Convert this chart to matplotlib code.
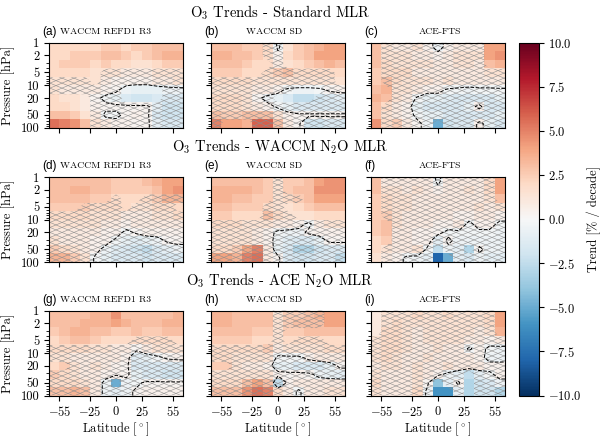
import matplotlib.pyplot as plt
import numpy as np
from matplotlib.collections import LineCollection

plt.rcParams['font.family'] = ['cmr10', 'DejaVu Serif']
plt.rcParams['mathtext.fontset'] = 'cm'
plt.rcParams['axes.formatter.use_mathtext'] = True
plt.rcParams['font.size'] = 9

# grid: 10 degree latitude bins, pressure bins (hPa)
lat_edges = [-65, -55, -45, -35, -25, -15, -5, 5, 15, 25, 35, 45, 55, 65]
p_edges = [1, 1.6, 2.5, 4, 6.3, 10, 16, 25, 40, 63, 100]

row_titles = ['O$_3$ Trends - Standard MLR',
              'O$_3$ Trends - WACCM N$_2$O MLR',
              'O$_3$ Trends - ACE N$_2$O MLR']
col_names = ['WACCM REFD1 R3', 'WACCM SD', 'ACE-FTS']
tags = ['(a)', '(b)', '(c)', '(d)', '(e)', '(f)', '(g)', '(h)', '(i)']
lat_ticks = [-55, -25, 0, 25, 55]
p_ticks = [1, 2, 5, 10, 20, 50, 100]
cbar_ticks = [-10, -7.5, -5, -2.5, 0, 2.5, 5, 7.5, 10]

# trends [% / decade], rows from 1 hPa down to 100 hPa, columns 60S -> 60N
trend_a = [[2, 2, 2, 2, 2, 2.5, 2.5, 2, 2.5, 2.5, 3, 3, 3],
           [2, 2, 2.5, 2.5, 2.5, 3, 3, 2.5, 2, 2.5, 3, 3.5, 3.5],
           [2, 2.5, 2.5, 2.5, 2, 2.5, 2, 2, 1.5, 1.5, 2, 2.5, 2.5],
           [2, 2, 2, 2, 1.5, 1.5, 1.5, 1, 1, 1, 1.5, 1.5, 1.5],
           [1.5, 1.5, 1.5, 1.5, 1.5, 1, 0.5, 0.5, 0.5, 0.5, 1, 1, 1.5],
           [1.5, 1, 1, 1, 1, 0.5, 0.3, -0.5, -0.8, -0.8, -0.8, -0.5, -0.5],
           [2, 1.5, 1.5, 1, 0.3, -0.3, -0.8, -1.5, -2, -2, -1.5, -1.5, -1.5],
           [2, 2, 1.5, 1, 0.5, 0.3, 0.3, 0.3, 0.3, 0.3, -1, -2, -2],
           [3, 3, 2.5, 1.5, 1, -0.3, -0.3, 0.3, 0.5, 0.3, -1.5, -2, -2],
           [5.5, 5, 4.5, 3, 1.5, 1, 0.5, 0.5, 0.3, 0.3, -1, -1.5, -1.5]]
trend_b = [[3, 3, 3, 2.5, 2.5, 2, -0.3, 1.5, 2.5, 3, 3.5, 4, 4],
           [3.5, 3.5, 3, 3, 2.5, 2, 0.5, 2, 2.5, 3, 4, 4, 4],
           [3, 3, 3, 2.5, 2, 2, 1, 1.5, 2, 2.5, 3, 3.5, 3],
           [2.5, 2.5, 2.5, 2, 2, 2, 2.5, 3, 2, 2, 2, 2, 2],
           [2, 2, 2, 2, 1.5, 1.5, 1.5, 1.5, 1.5, 1.5, 1.5, 1.5, 1.5],
           [1.5, 1.5, 1.5, 1.5, 1, 1, 0.5, -0.3, -0.5, -0.5, -0.3, 0.3, 0.5],
           [2, 2, 2, 1.5, 0.3, -0.5, -0.8, -1.5, -2.5, -2.5, -2, -1.5, -1],
           [2, 2, 2, 1.5, 1, 0.5, -0.3, -0.8, -1.5, -1.5, -1.5, -1.5, -1.5],
           [3, 2.5, 2.5, 3, 3, 3, 1.5, 0.5, 0.3, 0.3, 0.3, 0.3, 0.3],
           [5, 4, 4, 3.5, 6, 6, 3, 1, 0.3, -2, -2, -1.5, -1.5]]
trend_c = [[3, 1.5, 1, 1, 1.5, 0.5, -0.5, 0.5, 1, 1, 1, 4, 4],
           [3, 1.5, 1.5, 1.5, 1, 1, 0.5, 1, 1.5, 1.5, 1.5, 4, 4.5],
           [3, 2, 1.5, 1.5, 1.5, 1.5, 1, 1, 1.5, 1.5, 1, 3, 3.5],
           [2.5, 2, 2, 2, 1, 1, 1, 1, 1, 1, 1, 1.5, 1.5],
           [2.5, 3, 2, 1.5, 1.5, 1.5, 1, 1.5, 1, 1, 1, 1, 1],
           [3, 3.5, 1.5, 1.5, 1, 0.5, 0.5, -0.2, -0.3, -0.5, -0.3, -0.3, -0.2],
           [3.5, 3, 1.5, 1, -0.2, -0.8, -0.8, -1.2, -1.5, -1.5, -1.5, -1.5, -0.8],
           [3, 2, 1, 0.5, -0.8, -1.5, -1.5, -1.5, -1.5, -0.8, 0.5, -1.5, -1.5],
           [3, 1.5, 1, 0.5, -0.3, -0.8, -0.8, -1.5, -1.5, -1.5, -1.5, -1.5, -0.8],
           [4.5, 2, 2.5, 1, 0.3, -0.5, -5, -2, -1.5, -1.5, 0.5, -0.8, -1.5]]
trend_d = [[3, 3, 3, 3, 3, 3, 2.5, 2.5, 2.5, 3, 3.5, 4, 4],
           [3, 3, 3.5, 3.5, 3, 3, 2.5, 2.5, 2.5, 2.5, 3, 4, 4.5],
           [3, 3, 3, 3, 2.5, 2.5, 2, 2, 2, 2, 2.5, 3.5, 3.5],
           [2.5, 2.5, 2.5, 2.5, 2, 2, 2, 2, 1.5, 1.5, 2, 2, 2],
           [2, 2, 2, 2, 1.5, 1.5, 1.5, 1, 1, 1, 1.5, 1.5, 2],
           [1.5, 1.5, 1.5, 1.5, 1.5, 1, 1, 0.5, 1, 1, 1, 1, 1],
           [1, 1, 1, 1, 1, 0.5, 0.5, -0.3, 0.2, 0.5, 0.5, 0.5, 0.5],
           [1.5, 1, 1, 1, 0.5, 0.5, -0.3, -0.8, -1.2, -0.8, -0.5, 0.2, 0.3],
           [2.5, 2, 1.5, 1, 0.5, -0.5, -1.2, -1.5, -2, -2.5, -1.5, -1, -0.5],
           [3.5, 3.5, 2.5, 1.5, -0.3, -0.8, -1.5, -1.5, -1.5, -2, -1.5, -1.5, -1.5]]
trend_e = [[3, 3, 3, 3, 3, 2.5, 1.5, 2.5, 2.5, 3, 4, 4.5, 4.5],
           [3.5, 3.5, 3.5, 3.5, 3, 2.5, 1.5, 2.5, 3, 3, 4.5, 4.5, 4.5],
           [3.5, 3.5, 3, 3, 2.5, 2.5, 1.5, 2, 2.5, 3, 4, 4, 4],
           [3, 3, 2.5, 2.5, 2.5, 2, 1.5, 1.5, 2, 2.5, 3, 3, 3],
           [2.5, 2.5, 2, 2, 2, 3, 2, 1.5, 1.5, 1.5, 2, 2, 2],
           [2, 2, 2, 1.5, 1.5, 1.5, 1, 1, 0.5, -0.3, 1, 1.5, 1.5],
           [1.5, 1.5, 1.5, 1.5, 1, 0.5, -0.3, -0.5, -0.5, 0.3, 0.5, 0.5, 0.5],
           [1.5, 1.5, 1.5, 1.5, 1, 0.5, -0.5, -1.2, -1.5, -1.5, -0.8, 0.3, 0.3],
           [2, 2, 2.5, 4, 5, 1, -0.8, -1.5, -3, -3, -2, -1.5, -1.5],
           [4, 4, 3.5, 5, 5.5, 1, 0.3, -1.5, -2, -2, -1.5, -1.5, -2.5]]
trend_f = [[3, 1, 1, 1, 1, 1, -0.3, 1, 1, 1, 1, 2, 4],
           [3, 1.5, 1.5, 1, 1.5, 1, 0.5, 1, 1, 1.5, 1, 2, 4],
           [2.5, 2, 1.5, 1.5, 1, 1, 1, 1, 1, 1, 1, 1.5, 3],
           [2.5, 2, 1.5, 1.5, 1, 1, 1, 1, 1, 1, 1.5, 1, 1.5],
           [2.5, 2.5, 1.5, 1, 1, 1, 1, 1, 0.5, 0.5, 1, 1, 0.5],
           [2.5, 3, 1.5, 1, 1, 1, 0.5, 0.5, 1, -0.3, 0.5, 0.5, -0.3],
           [2.5, 3, 1, 1, 0.5, 0.5, 0.3, -0.3, -0.3, -0.3, -0.3, -0.3, -0.5],
           [2, 2.5, 1, 1, 0.5, 0.5, -1, 0.3, -0.5, -0.5, -0.5, -0.5, -0.5],
           [2, 1.5, 1, 1, 1.5, -0.3, -2.5, -0.5, -1, -3, 0.3, -0.5, -0.5],
           [1.5, 1, 0.5, -0.3, -0.5, -1, -8, -5, -1, -1.5, -0.5, -1, -1]]
trend_g = [[3, 3, 3, 3, 3.5, 3.5, 4.5, 3, 3, 3, 3, 3, 3.5],
           [3, 3, 3, 3.5, 3.5, 3.5, 4, 3.5, 3, 3, 3, 3.5, 3.5],
           [2.5, 3, 3.5, 3.5, 3, 3, 2.5, 2.5, 3, 2.5, 2.5, 3, 3],
           [2, 2.5, 3, 3, 2.5, 2, 2, 2, 2, 2, 2, 2, 2],
           [2, 2, 2, 2, 1.5, 1.5, 1, 1, 0.3, 1, 1.5, 1.5, 1.5],
           [1.5, 1.5, 1, 1, 1, 1, 1, 0.5, -1.2, -0.8, -0.3, 0.3, 0.5],
           [2, 2.5, 1.5, 1, 1.5, 1, 0.5, 0.3, -1.5, -1.5, -1.5, -1.5, -1.5],
           [2.5, 2, 1.5, 1, 1, 0.5, 0.5, 0.3, -0.8, -1.5, -1.5, -2, -2],
           [2, 2, 2, 1.5, 1, -0.5, -5, -0.5, -0.3, 0.3, 0.3, 0.3, 0.3],
           [3, 3, 3.5, 3, 1, -0.5, -1, -0.5, 0.3, 0.5, 0.5, 0.5, 0.5]]
trend_h = [[3.5, 3.5, 3, 3, 3, 3, 1.5, 2.5, 2.5, 3, 3.5, 4, 4],
           [3.5, 3.5, 3, 3, 3, 3, 1.5, 2.5, 3, 3, 3, 4, 4],
           [3, 3, 3, 3, 2.5, 2.5, 1.5, 2.5, 2.5, 3, 3, 3, 3],
           [2.5, 2.5, 2.5, 2.5, 2, 2, 1.5, 2, 2, 2, 2, 2, 2],
           [2, 2, 2, 2, 2, 2.5, 1, 1.5, 1.5, 1.5, 1.5, 2, 2],
           [2, 2, 1.5, 1.5, 1.5, 1.5, -0.3, -0.3, -0.3, 0.5, 1, 1, 1],
           [2.5, 2.5, 1.5, 1, 1, 0.5, -0.8, -0.8, -1.5, -1.5, -1.5, -0.8, 0.3],
           [1.5, 1.5, 1.5, 1.5, 1.5, 1.5, 0.5, 0.3, 0.5, 0.3, -0.5, -0.8, -1],
           [2, 2, 2, 3, 4, 3, -2.5, 0.5, 1, 1, 1, 1, 1],
           [3, 3, 3, 4.5, 5.5, 5, 2, 1, -0.3, 1, 1, 1.5, 1.5]]
trend_i = [[1, 1.5, 1.5, 1.5, 2, 1.5, 1.5, 2, 1.5, 1.5, 1.5, 2, 4],
           [1, 1.5, 2, 1.5, 1.5, 1.5, 1.5, 1.5, 1.5, 1.5, 1.5, 2, 4],
           [1, 2, 2, 1.5, 1, 1.5, 1.5, 1.5, 1.5, 1.5, 1, 1.5, 3.5],
           [1.5, 2, 2, 1.5, 1, 1.5, 1.5, 1.5, 1.5, 1, 1, 0.5, 1],
           [1.5, 2, 2, 1.5, 1, 1, 1.5, 1, 1, -0.2, 0.5, -0.3, -0.5],
           [1.5, 2, 1.5, 1, 1, 1.5, 1, 1, 1, 1, 0.5, -0.5, -0.5],
           [1, 1.5, 1.5, 1, 1.5, 1, 1, 1.5, 1, 1, 1, 0.5, 0.5],
           [1.5, 1, 1, 1, 1.5, 1, 0.5, -0.5, -1, -2.5, -1, -0.3, 0.5],
           [2, 1, 1, 1, 1.5, 0.3, -4, -1, 0.3, -3, -2, -1.5, -0.5],
           [1.5, 1, 1, 1, 2, -0.5, -6, -6, -1, -3, -2, -2, -3]]

# 'x' = trend not significant (hatched)
sig_a = ['.............', '.............', '.............', '.....xxxxxxxx',
         'xxxx.xxxxxxxx', 'xxxxxxx....xx', '....xxx....xx', '....xxxxxxxxx',
         '....xxxxxxxxx', '....xxxxxxxxx']
sig_b = ['.....xx......', '.....xx......', '......x......', '.....xxxxxxx.',
         'xxxxxxxxxxxx.', 'xxxxxxxx...xx', 'xxxxxx....xxx', 'xxxxxxxxxxxxx',
         'xxxxxxxxxxxxx', 'x...xxxxxxxxx']
sig_c = ['.xxxxxxxxxx..', '.xxxxxxxxxx..', '.xxxxxxxxxx..', '.xxxxxxxxxxxx',
         '.xxxxxxxxxxxx', '..xxxxxxxxxxx', '..xxxxxxxxxxx', '.xxxxxxxxxxxx',
         '.xxxxxxxxxxxx', '.xxxxx.xxxxxx']
sig_d = ['.............', '.............', '......x..xxxx', '...xxxx.xxxx.',
         'xxxxxxxxxxxxx', 'xxxxxxxxxxxxx', 'xxxxxxxxxxxxx', 'xxxxxxxxxxxxx',
         'xxxxxxxxxxxxx', 'xxxxxxxxxxxxx']
sig_e = ['......x......', '......x......', '......xxx....', '.....xx......',
         '.....xxx.....', 'xxxxxxxxxxxxx', 'xxxxxxxxxxxxx', 'xxxxxxxxxxxxx',
         'xxxxxxxxxxxxx', 'xxxxxxxxxxxxx']
sig_f = ['.xxxxxxxxxxx.', '.xxxxxxxxxxx.', '.xxxxxxxxxxx.', '.xxxxxxxxxxxx',
         '.xxxxxxxxxxxx', '..xxxxxxxxxxx', '..xxxxxxxxxxx', '..xxxxxxxxxxx',
         '.xxxxx.xx.xxx', '.xxxxx..xxxxx']
sig_g = ['.............', '.............', '.............', '........xxxx.',
         'xxxxxxxxxxxxx', 'xxxxxxxxxxxxx', '..xxxxxxxxxxx', 'xxxxxxxxxxxxx',
         'xxxxxx.xxxxxx', 'xxxxxxxxxxxxx']
sig_h = ['......xxxxx..', '......xxxxx..', '......x......', '......x.xxx..',
         'xxxxxxxxxxxxx', 'xxxxxxxxxxxxx', '..xxxxxxxxxxx', 'xxxxxxxxxxxxx',
         'xxxxxxxxxxxxx', 'xxxxxxxxxxxxx']
sig_i = ['.xxxxxxxxxxx.', '.xxxxxxxxxxx.', '.xxxxxxxxxxx.', 'xxxxxxxxxxxxx',
         'xxxxxxxxxxxxx', 'xxxxxxxxxxxxx', 'xxxxxxxxxxxxx', 'xxxxxxxxx.xxx',
         'xxxxxx.xx.xxx', 'xxxxxx..x.xxx']

trends = [trend_a, trend_b, trend_c, trend_d, trend_e, trend_f, trend_g, trend_h, trend_i]
sigs = [sig_a, sig_b, sig_c, sig_d, sig_e, sig_f, sig_g, sig_h, sig_i]

W, H = 600, 438
fig = plt.figure(figsize=(W / 100, H / 100), dpi=100)

col_left = [49, 211, 371]
row_top = [42.7, 177, 310.5]
ax_w, ax_h = 134, 85
name_x = [0.418, 0.47, 0.515]

# padded grid so contours reach the axes edges
lat_c = [(a + b) / 2 for a, b in zip(lat_edges[:-1], lat_edges[1:])]
p_c = [np.sqrt(a * b) for a, b in zip(p_edges[:-1], p_edges[1:])]
xg = [lat_edges[0]] + lat_c + [lat_edges[-1]]
yg = [p_edges[0]] + p_c + [p_edges[-1]]


def hatch(ax, mask):
    cs = ax.contourf(xg, yg, np.pad(mask, 1, mode='edge'), levels=[0.5, 1.5], colors='none')
    path = cs.get_paths()[0]
    dw, dh = 12.0, 5.0  # diamond size in pixels
    s = dh / dw
    segs = []
    for c in np.arange(-s * ax_w - dh, ax_h + dh, dh):
        segs.append([(0, c / ax_h), (1, (c + s * ax_w) / ax_h)])
    for c in np.arange(0, ax_h + s * ax_w + dh, dh):
        segs.append([(0, c / ax_h), (1, (c - s * ax_w) / ax_h)])
    lc = LineCollection(segs, colors='0.55', linewidths=0.4, transform=ax.transAxes)
    lc.set_clip_path(path, ax.transData)
    ax.add_collection(lc, autolim=False)


for k in range(9):
    r, c = divmod(k, 3)
    ax = fig.add_axes([col_left[c] / W, 1 - (row_top[r] + ax_h) / H, ax_w / W, ax_h / H])
    T = np.array(trends[k], dtype=float)
    mask = np.array([[1.0 if ch == 'x' else 0.0 for ch in row] for row in sigs[k]])
    mesh = ax.pcolormesh(lat_edges, p_edges, T, cmap='RdBu_r', vmin=-10, vmax=10)
    hatch(ax, mask)
    ax.contour(xg, yg, np.pad(T, 1, mode='edge'), levels=[0], colors='k',
               linewidths=0.7, linestyles='--')
    ax.set_yscale('log')
    ax.set_xlim(-65, 65)
    ax.set_ylim(100, 1)
    ax.set_xticks(lat_ticks)
    ax.set_yticks(p_ticks)
    if c == 0:
        ax.set_yticklabels([str(p) for p in p_ticks])
        ax.set_ylabel('Pressure [hPa]')
    else:
        ax.set_yticklabels([])
    if r == 2:
        ax.set_xticklabels(['$%d$' % v for v in lat_ticks])
        ax.set_xlabel('Latitude $[^\\circ]$', labelpad=1)
    else:
        ax.set_xticklabels([])
    ax.text(-0.054, 1 + 11 / ax_h, tags[k], transform=ax.transAxes, ha='left', va='center',
            family='Liberation Sans', fontsize=8.5)
    ax.text(name_x[c], 1 + 11 / ax_h, col_names[c], transform=ax.transAxes, ha='center',
            va='center', fontsize=7)

for r in range(3):
    fig.text(280 / W, 1 - (row_top[r] - 30) / H, row_titles[r], ha='center', va='center',
             fontsize=10.5)

cax = fig.add_axes([518.5 / W, 1 - 395.5 / H, 20 / W, (395.5 - 42.7) / H])
cb = fig.colorbar(mesh, cax=cax, ticks=cbar_ticks)
cb.ax.set_yticklabels(['$%.1f$' % v for v in cbar_ticks])
cb.set_label('Trend [% / decade]')

fig.savefig('out.png', dpi=100)
